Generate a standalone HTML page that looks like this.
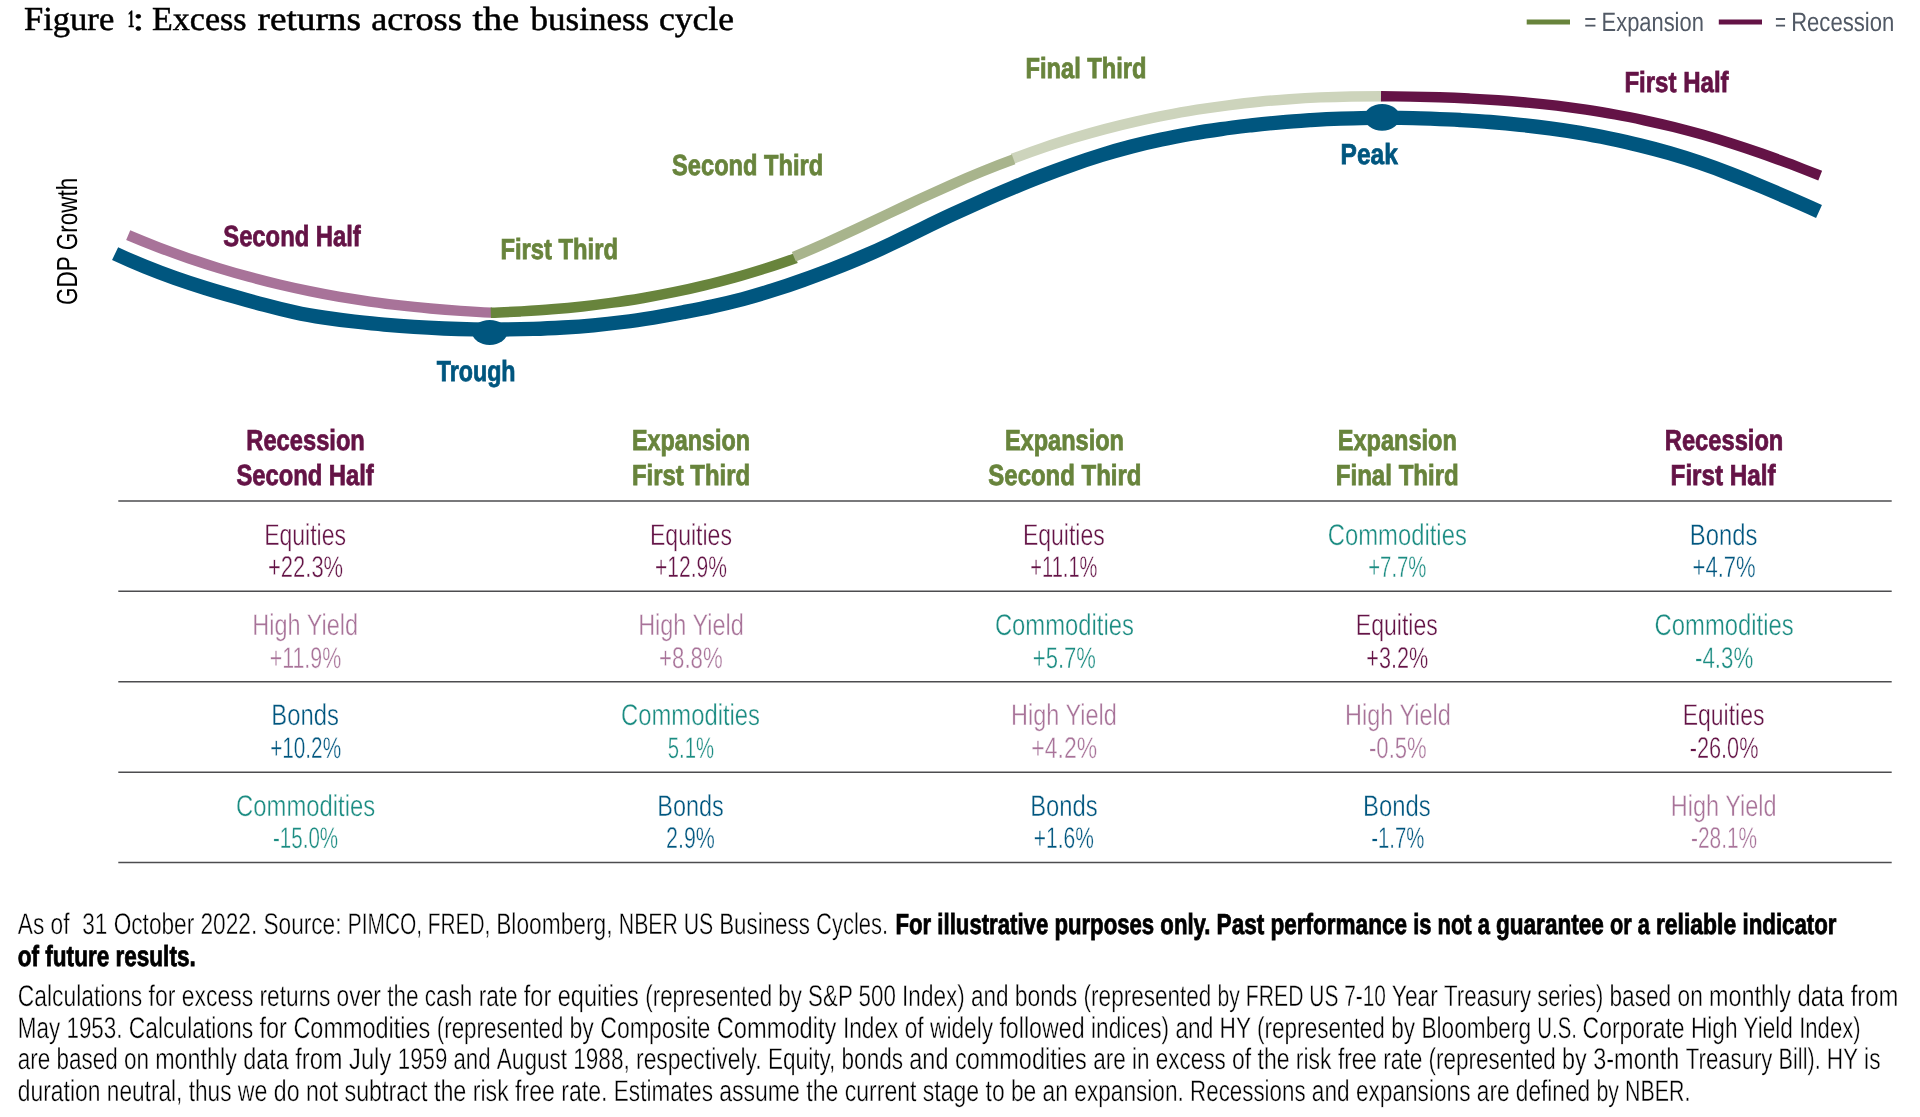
<!DOCTYPE html>
<html lang="en">
<head>
<meta charset="utf-8">
<title>Figure 1: Excess returns across the business cycle</title>
<style>
html,body{margin:0;padding:0;background:#fff;}
body{width:1920px;height:1117px;overflow:hidden;}
svg{display:block;font-family:"Liberation Sans",Arial,sans-serif;will-change:transform;text-rendering:geometricPrecision;}
</style>
</head>
<body>
<svg width="1920" height="1117" viewBox="0 0 1920 1117">
<rect width="1920" height="1117" fill="#ffffff"/>
<g id="legend-lines" stroke-width="5" fill="none">
<line x1="1526.7" y1="21.9" x2="1570" y2="21.9" stroke="#68843c"/>
<line x1="1718.8" y1="21.9" x2="1762" y2="21.9" stroke="#641346"/>
</g>
<g id="cycle" fill="none" stroke-linecap="butt">
<path stroke="#00567f" stroke-width="14.3" d="M115.1 253.6 C125.1 258.3 135.0 262.6 145.0 266.6 C155.0 270.7 164.9 274.4 174.9 277.9 C184.9 281.4 194.8 284.7 204.8 287.8 C214.7 290.9 224.7 293.8 234.7 296.6 C244.6 299.5 254.6 302.3 264.6 304.9 C274.5 307.6 284.5 310.1 294.5 312.2 C304.4 314.4 314.4 316.1 324.4 317.6 C334.3 319.1 344.3 320.4 354.2 321.5 C364.2 322.6 374.2 323.7 384.1 324.6 C394.1 325.5 404.1 326.3 414.0 326.9 C424.0 327.6 434.0 328.1 443.9 328.5 C453.9 328.9 463.9 329.2 473.8 329.4 C483.8 329.6 493.7 329.6 503.7 329.5 C513.7 329.4 523.6 329.2 533.6 328.9 C543.6 328.6 553.5 328.1 563.5 327.5 C573.5 326.9 583.4 326.2 593.4 325.3 C603.4 324.4 613.3 323.3 623.3 322.0 C633.2 320.8 643.2 319.3 653.2 317.7 C663.1 316.0 673.1 314.1 683.1 312.2 C693.0 310.3 703.0 308.4 713.0 306.2 C722.9 304.1 732.9 301.7 742.9 299.1 C752.8 296.4 762.8 293.5 772.7 290.3 C782.7 287.2 792.7 283.8 802.6 280.2 C812.6 276.7 822.6 272.9 832.5 269.1 C842.5 265.2 852.5 261.2 862.4 256.9 C872.4 252.7 882.4 248.2 892.3 243.4 C902.3 238.6 912.2 233.7 922.2 228.8 C932.2 223.9 942.1 219.1 952.1 214.5 C962.1 209.9 972.0 205.4 982.0 200.9 C992.0 196.5 1001.9 192.2 1011.9 188.1 C1021.9 183.9 1031.8 179.8 1041.8 176.0 C1051.7 172.1 1061.7 168.4 1071.7 164.9 C1081.6 161.4 1091.6 158.1 1101.6 155.0 C1111.5 151.9 1121.5 149.1 1131.5 146.5 C1141.4 143.9 1151.4 141.6 1161.4 139.5 C1171.3 137.4 1181.3 135.5 1191.2 133.7 C1201.2 132.0 1211.2 130.5 1221.1 129.1 C1231.1 127.7 1241.1 126.5 1251.0 125.3 C1261.0 124.2 1271.0 123.2 1280.9 122.4 C1290.9 121.5 1300.9 120.8 1310.8 120.1 C1320.8 119.5 1330.7 119.0 1340.7 118.7 C1350.7 118.3 1360.6 118.1 1370.6 117.9 C1380.6 117.8 1390.5 117.8 1400.5 117.9 C1410.5 118.0 1420.4 118.3 1430.4 118.6 C1440.4 119.0 1450.3 119.4 1460.3 120.0 C1470.2 120.6 1480.2 121.2 1490.2 122.0 C1500.1 122.8 1510.1 123.7 1520.1 124.8 C1530.0 125.8 1540.0 127.0 1550.0 128.4 C1559.9 129.7 1569.9 131.2 1579.9 132.9 C1589.8 134.5 1599.8 136.4 1609.7 138.4 C1619.7 140.5 1629.7 142.7 1639.6 145.2 C1649.6 147.6 1659.6 150.3 1669.5 153.2 C1679.5 156.1 1689.5 159.2 1699.4 162.6 C1709.4 166.0 1719.4 169.6 1729.3 173.5 C1739.3 177.3 1749.2 181.3 1759.2 185.5 C1769.2 189.6 1779.1 193.9 1789.1 198.3 C1799.1 202.6 1809.0 207.0 1819.0 211.5"/>
<path stroke="#a87399" stroke-width="10.4" d="M128.2 235.1 C138.3 239.4 148.3 243.4 158.4 247.3 C168.5 251.1 178.6 254.8 188.6 258.3 C198.7 261.7 208.8 265.0 218.8 268.1 C228.9 271.2 239.0 274.1 249.1 276.8 C259.1 279.5 269.2 282.1 279.3 284.5 C289.4 286.9 299.4 289.1 309.5 291.1 C319.6 293.2 329.6 295.1 339.7 296.8 C349.8 298.5 359.9 300.1 369.9 301.6 C380.0 303.0 390.1 304.3 400.2 305.4 C410.2 306.6 420.3 307.6 430.4 308.5 C440.4 309.4 450.5 310.2 460.6 310.9 C470.7 311.6 480.7 312.2 490.8 312.6 l0.9 0.06"/>
<path stroke="#68843c" stroke-width="10.4" d="M490.8 312.7 C501.0 312.4 511.1 311.9 521.3 311.4 C531.5 310.8 541.7 310.2 551.8 309.3 C562.0 308.5 572.2 307.6 582.4 306.5 C592.5 305.4 602.7 304.1 612.9 302.7 C623.1 301.3 633.2 299.7 643.4 298.0 C653.6 296.2 663.7 294.3 673.9 292.2 C684.1 290.2 694.3 287.9 704.4 285.4 C714.6 283.0 724.8 280.3 735.0 277.5 C745.1 274.7 755.3 271.6 765.5 268.4 C775.7 265.2 785.8 261.7 796.0 258.1"/>
<path stroke="#cdd4bc" stroke-width="10.4" d="M1012.7 158.7 C1023.0 154.8 1033.2 151.1 1043.5 147.6 C1053.7 144.1 1064.0 140.9 1074.2 137.8 C1084.5 134.7 1094.7 131.8 1105.0 129.1 C1115.2 126.4 1125.5 123.9 1135.7 121.6 C1146.0 119.3 1156.2 117.1 1166.5 115.2 C1176.7 113.2 1187.0 111.4 1197.2 109.7 C1207.5 108.1 1217.8 106.6 1228.0 105.3 C1238.3 104.0 1248.5 102.8 1258.8 101.8 C1269.0 100.8 1279.3 99.9 1289.5 99.2 C1299.8 98.5 1310.0 97.9 1320.3 97.4 C1330.5 97.0 1340.8 96.7 1351.0 96.5 C1361.3 96.3 1371.5 96.2 1381.8 96.2"/>
<path stroke="#a8b48c" stroke-width="10.4" d="M793.9 256.8 C804.4 252.4 814.8 247.9 825.3 243.2 C835.7 238.4 846.2 233.6 856.7 228.7 C867.1 223.8 877.6 218.9 888.1 213.9 C898.5 209.0 909.0 204.0 919.4 199.1 C929.9 194.3 940.4 189.5 950.8 184.9 C961.3 180.2 971.8 175.7 982.2 171.5 C992.7 167.2 1003.1 163.2 1013.6 159.4"/>
<path stroke="#641346" stroke-width="10.4" d="M1381.0 96.2 C1390.8 96.3 1400.5 96.4 1410.3 96.6 C1420.0 96.8 1429.8 97.0 1439.6 97.3 C1449.3 97.6 1459.1 98.0 1468.8 98.5 C1478.6 99.0 1488.4 99.6 1498.1 100.2 C1507.9 100.9 1517.6 101.7 1527.4 102.6 C1537.2 103.5 1546.9 104.5 1556.7 105.7 C1566.4 106.9 1576.2 108.2 1586.0 109.6 C1595.7 111.1 1605.5 112.7 1615.2 114.5 C1625.0 116.2 1634.8 118.2 1644.5 120.3 C1654.3 122.4 1664.0 124.6 1673.8 127.0 C1683.6 129.5 1693.3 132.1 1703.1 134.8 C1712.8 137.6 1722.6 140.6 1732.4 143.7 C1742.1 146.8 1751.9 150.1 1761.6 153.5 C1771.4 157.0 1781.2 160.5 1790.9 164.2 C1800.7 168.0 1810.4 171.8 1820.2 175.7"/>
<ellipse cx="489.7" cy="332.4" rx="17.5" ry="12.5" fill="#00567f"/>
<ellipse cx="1382.1" cy="117.35" rx="17.6" ry="13.4" fill="#00567f"/>
</g>
<text id="gdp" transform="translate(77.3 305.00) rotate(-90)" font-size="29" fill="#000" textLength="127.26" lengthAdjust="spacingAndGlyphs">GDP Growth</text>
<g id="rules" stroke="#4d4d4f" stroke-width="1.5">
<line x1="118.3" y1="500.9" x2="1891.7" y2="500.9"/>
<line x1="118.3" y1="591.3" x2="1891.7" y2="591.3"/>
<line x1="118.3" y1="681.7" x2="1891.7" y2="681.7"/>
<line x1="118.3" y1="772.2" x2="1891.7" y2="772.2"/>
<line x1="118.3" y1="862.6" x2="1891.7" y2="862.6"/>
</g>
<g id="labels">
<text id="title" font-size="33.5" font-family='"Liberation Serif", "Times New Roman", serif' fill="#000" stroke="#000" stroke-width="0.5"><tspan id="tw0" x="23.95" y="29.8" textLength="90.31" lengthAdjust="spacingAndGlyphs">Figure</tspan> <tspan id="tw1" x="127.83" y="27.0" textLength="6.62" lengthAdjust="spacingAndGlyphs" font-size="24.5" font-weight="bold">1</tspan><tspan id="tw1c" x="132.51" y="29.8" textLength="11.79" lengthAdjust="spacingAndGlyphs">:</tspan> <tspan id="tw2" x="152.00" y="29.8" textLength="94.50" lengthAdjust="spacingAndGlyphs">Excess</tspan> <tspan id="tw3" x="257.50" y="29.8" textLength="103.53" lengthAdjust="spacingAndGlyphs">returns</tspan> <tspan id="tw4" x="371.20" y="29.8" textLength="90.54" lengthAdjust="spacingAndGlyphs">across</tspan> <tspan id="tw5" x="472.45" y="29.8" textLength="46.81" lengthAdjust="spacingAndGlyphs">the</tspan> <tspan id="tw6" x="530.49" y="29.8" textLength="118.77" lengthAdjust="spacingAndGlyphs">business</tspan> <tspan id="tw7" x="659.00" y="29.8" textLength="75.00" lengthAdjust="spacingAndGlyphs">cycle</tspan></text>
<text id="leg1" y="30.8" font-size="26.5" fill="#515965"><tspan id="lg1a" x="1584.32" textLength="12.20" lengthAdjust="spacingAndGlyphs">=</tspan> <tspan id="lg1b" x="1601.59" textLength="102.25" lengthAdjust="spacingAndGlyphs">Expansion</tspan></text>
<text id="leg2" y="30.8" font-size="26.5" fill="#515965"><tspan id="lg2a" x="1775.03" textLength="10.98" lengthAdjust="spacingAndGlyphs">=</tspan> <tspan id="lg2b" x="1791.17" textLength="103.06" lengthAdjust="spacingAndGlyphs">Recession</tspan></text>
<text id="c_sh" x="223.27" y="246.25" font-size="29" font-weight="bold" fill="#641346" stroke="#641346" stroke-width="0.8" textLength="137.50" lengthAdjust="spacingAndGlyphs">Second Half</text>
<text id="c_ft" x="500.39" y="259.40" font-size="29" font-weight="bold" fill="#68843c" stroke="#68843c" stroke-width="0.8" textLength="117.61" lengthAdjust="spacingAndGlyphs">First Third</text>
<text id="c_st" x="672.09" y="175.40" font-size="29" font-weight="bold" fill="#68843c" stroke="#68843c" stroke-width="0.8" textLength="151.02" lengthAdjust="spacingAndGlyphs">Second Third</text>
<text id="c_fn" x="1025.50" y="77.90" font-size="29" font-weight="bold" fill="#68843c" stroke="#68843c" stroke-width="0.8" textLength="121.01" lengthAdjust="spacingAndGlyphs">Final Third</text>
<text id="c_pk" x="1340.61" y="164.00" font-size="29" font-weight="bold" fill="#00567f" stroke="#00567f" stroke-width="0.8" textLength="57.13" lengthAdjust="spacingAndGlyphs">Peak</text>
<text id="c_fh" x="1624.38" y="91.90" font-size="29" font-weight="bold" fill="#641346" stroke="#641346" stroke-width="0.8" textLength="104.20" lengthAdjust="spacingAndGlyphs">First Half</text>
<text id="c_tr" x="436.75" y="381.25" font-size="29" font-weight="bold" fill="#00567f" stroke="#00567f" stroke-width="0.8" textLength="78.79" lengthAdjust="spacingAndGlyphs">Trough</text>
<text id="h0a" x="246.35" y="450.10" font-size="29" font-weight="bold" fill="#641346" stroke="#641346" stroke-width="0.8" textLength="118.49" lengthAdjust="spacingAndGlyphs">Recession</text>
<text id="h0b" x="236.39" y="484.70" font-size="29" font-weight="bold" fill="#641346" stroke="#641346" stroke-width="0.8" textLength="137.41" lengthAdjust="spacingAndGlyphs">Second Half</text>
<text id="h1a" x="631.98" y="450.10" font-size="29" font-weight="bold" fill="#68843c" stroke="#68843c" stroke-width="0.8" textLength="118.03" lengthAdjust="spacingAndGlyphs">Expansion</text>
<text id="h1b" x="631.98" y="484.70" font-size="29" font-weight="bold" fill="#68843c" stroke="#68843c" stroke-width="0.8" textLength="118.03" lengthAdjust="spacingAndGlyphs">First Third</text>
<text id="h2a" x="1004.88" y="450.10" font-size="29" font-weight="bold" fill="#68843c" stroke="#68843c" stroke-width="0.8" textLength="119.09" lengthAdjust="spacingAndGlyphs">Expansion</text>
<text id="h2b" x="988.37" y="484.70" font-size="29" font-weight="bold" fill="#68843c" stroke="#68843c" stroke-width="0.8" textLength="153.03" lengthAdjust="spacingAndGlyphs">Second Third</text>
<text id="h3a" x="1337.76" y="450.10" font-size="29" font-weight="bold" fill="#68843c" stroke="#68843c" stroke-width="0.8" textLength="119.11" lengthAdjust="spacingAndGlyphs">Expansion</text>
<text id="h3b" x="1335.77" y="484.70" font-size="29" font-weight="bold" fill="#68843c" stroke="#68843c" stroke-width="0.8" textLength="123.06" lengthAdjust="spacingAndGlyphs">Final Third</text>
<text id="h4a" x="1664.85" y="450.10" font-size="29" font-weight="bold" fill="#641346" stroke="#641346" stroke-width="0.8" textLength="118.48" lengthAdjust="spacingAndGlyphs">Recession</text>
<text id="h4b" x="1670.59" y="484.70" font-size="29" font-weight="bold" fill="#641346" stroke="#641346" stroke-width="0.8" textLength="105.02" lengthAdjust="spacingAndGlyphs">First Half</text>
<text id="n00" x="264.13" y="544.80" font-size="29.9" fill="#641346" stroke="#fff" stroke-width="0.4" textLength="81.90" lengthAdjust="spacingAndGlyphs">Equities</text>
<text id="v00" x="268.00" y="577.30" font-size="29.9" fill="#641346" stroke="#fff" stroke-width="0.4" textLength="75.17" lengthAdjust="spacingAndGlyphs">+22.3%</text>
<text id="n01" x="252.28" y="635.10" font-size="29.9" fill="#a87399" stroke="#fff" stroke-width="0.4" textLength="105.74" lengthAdjust="spacingAndGlyphs">High Yield</text>
<text id="v01" x="269.65" y="667.60" font-size="29.9" fill="#a87399" stroke="#fff" stroke-width="0.4" textLength="71.60" lengthAdjust="spacingAndGlyphs">+11.9%</text>
<text id="n02" x="271.35" y="725.40" font-size="29.9" fill="#00567f" stroke="#fff" stroke-width="0.4" textLength="67.53" lengthAdjust="spacingAndGlyphs">Bonds</text>
<text id="v02" x="270.15" y="757.90" font-size="29.9" fill="#00567f" stroke="#fff" stroke-width="0.4" textLength="70.95" lengthAdjust="spacingAndGlyphs">+10.2%</text>
<text id="n03" x="236.09" y="815.70" font-size="29.9" fill="#1b8c82" stroke="#fff" stroke-width="0.4" textLength="139.04" lengthAdjust="spacingAndGlyphs">Commodities</text>
<text id="v03" x="272.96" y="848.20" font-size="29.9" fill="#1b8c82" stroke="#fff" stroke-width="0.4" textLength="65.22" lengthAdjust="spacingAndGlyphs">-15.0%</text>
<text id="n10" x="649.99" y="544.80" font-size="29.9" fill="#641346" stroke="#fff" stroke-width="0.4" textLength="81.96" lengthAdjust="spacingAndGlyphs">Equities</text>
<text id="v10" x="655.00" y="577.30" font-size="29.9" fill="#641346" stroke="#fff" stroke-width="0.4" textLength="72.00" lengthAdjust="spacingAndGlyphs">+12.9%</text>
<text id="n11" x="638.13" y="635.10" font-size="29.9" fill="#a87399" stroke="#fff" stroke-width="0.4" textLength="105.74" lengthAdjust="spacingAndGlyphs">High Yield</text>
<text id="v11" x="659.06" y="667.60" font-size="29.9" fill="#a87399" stroke="#fff" stroke-width="0.4" textLength="63.61" lengthAdjust="spacingAndGlyphs">+8.8%</text>
<text id="n12" x="620.99" y="725.40" font-size="29.9" fill="#1b8c82" stroke="#fff" stroke-width="0.4" textLength="139.02" lengthAdjust="spacingAndGlyphs">Commodities</text>
<text id="v12" x="667.81" y="757.90" font-size="29.9" fill="#1b8c82" stroke="#fff" stroke-width="0.4" textLength="46.30" lengthAdjust="spacingAndGlyphs">5.1%</text>
<text id="n13" x="657.32" y="815.70" font-size="29.9" fill="#00567f" stroke="#fff" stroke-width="0.4" textLength="66.45" lengthAdjust="spacingAndGlyphs">Bonds</text>
<text id="v13" x="666.07" y="848.20" font-size="29.9" fill="#00567f" stroke="#fff" stroke-width="0.4" textLength="48.85" lengthAdjust="spacingAndGlyphs">2.9%</text>
<text id="n20" x="1022.92" y="544.80" font-size="29.9" fill="#641346" stroke="#fff" stroke-width="0.4" textLength="81.88" lengthAdjust="spacingAndGlyphs">Equities</text>
<text id="v20" x="1030.37" y="577.30" font-size="29.9" fill="#641346" stroke="#fff" stroke-width="0.4" textLength="67.05" lengthAdjust="spacingAndGlyphs">+11.1%</text>
<text id="n21" x="994.89" y="635.10" font-size="29.9" fill="#1b8c82" stroke="#fff" stroke-width="0.4" textLength="139.05" lengthAdjust="spacingAndGlyphs">Commodities</text>
<text id="v21" x="1032.83" y="667.60" font-size="29.9" fill="#1b8c82" stroke="#fff" stroke-width="0.4" textLength="63.13" lengthAdjust="spacingAndGlyphs">+5.7%</text>
<text id="n22" x="1011.03" y="725.40" font-size="29.9" fill="#a87399" stroke="#fff" stroke-width="0.4" textLength="105.75" lengthAdjust="spacingAndGlyphs">High Yield</text>
<text id="v22" x="1031.37" y="757.90" font-size="29.9" fill="#a87399" stroke="#fff" stroke-width="0.4" textLength="65.67" lengthAdjust="spacingAndGlyphs">+4.2%</text>
<text id="n23" x="1030.15" y="815.70" font-size="29.9" fill="#00567f" stroke="#fff" stroke-width="0.4" textLength="67.58" lengthAdjust="spacingAndGlyphs">Bonds</text>
<text id="v23" x="1033.85" y="848.20" font-size="29.9" fill="#00567f" stroke="#fff" stroke-width="0.4" textLength="59.99" lengthAdjust="spacingAndGlyphs">+1.6%</text>
<text id="n30" x="1327.79" y="544.80" font-size="29.9" fill="#1b8c82" stroke="#fff" stroke-width="0.4" textLength="139.06" lengthAdjust="spacingAndGlyphs">Commodities</text>
<text id="v30" x="1368.25" y="577.30" font-size="29.9" fill="#1b8c82" stroke="#fff" stroke-width="0.4" textLength="58.20" lengthAdjust="spacingAndGlyphs">+7.7%</text>
<text id="n31" x="1355.83" y="635.10" font-size="29.9" fill="#641346" stroke="#fff" stroke-width="0.4" textLength="81.92" lengthAdjust="spacingAndGlyphs">Equities</text>
<text id="v31" x="1366.37" y="667.60" font-size="29.9" fill="#641346" stroke="#fff" stroke-width="0.4" textLength="61.89" lengthAdjust="spacingAndGlyphs">+3.2%</text>
<text id="n32" x="1345.02" y="725.40" font-size="29.9" fill="#a87399" stroke="#fff" stroke-width="0.4" textLength="105.75" lengthAdjust="spacingAndGlyphs">High Yield</text>
<text id="v32" x="1369.00" y="757.90" font-size="29.9" fill="#a87399" stroke="#fff" stroke-width="0.4" textLength="57.70" lengthAdjust="spacingAndGlyphs">-0.5%</text>
<text id="n33" x="1363.01" y="815.70" font-size="29.9" fill="#00567f" stroke="#fff" stroke-width="0.4" textLength="67.60" lengthAdjust="spacingAndGlyphs">Bonds</text>
<text id="v33" x="1371.29" y="848.20" font-size="29.9" fill="#00567f" stroke="#fff" stroke-width="0.4" textLength="53.06" lengthAdjust="spacingAndGlyphs">-1.7%</text>
<text id="n40" x="1689.86" y="544.80" font-size="29.9" fill="#00567f" stroke="#fff" stroke-width="0.4" textLength="67.55" lengthAdjust="spacingAndGlyphs">Bonds</text>
<text id="v40" x="1692.52" y="577.30" font-size="29.9" fill="#00567f" stroke="#fff" stroke-width="0.4" textLength="63.20" lengthAdjust="spacingAndGlyphs">+4.7%</text>
<text id="n41" x="1654.59" y="635.10" font-size="29.9" fill="#1b8c82" stroke="#fff" stroke-width="0.4" textLength="139.06" lengthAdjust="spacingAndGlyphs">Commodities</text>
<text id="v41" x="1695.03" y="667.60" font-size="29.9" fill="#1b8c82" stroke="#fff" stroke-width="0.4" textLength="58.18" lengthAdjust="spacingAndGlyphs">-4.3%</text>
<text id="n42" x="1682.66" y="725.40" font-size="29.9" fill="#641346" stroke="#fff" stroke-width="0.4" textLength="81.88" lengthAdjust="spacingAndGlyphs">Equities</text>
<text id="v42" x="1689.77" y="757.90" font-size="29.9" fill="#641346" stroke="#fff" stroke-width="0.4" textLength="68.70" lengthAdjust="spacingAndGlyphs">-26.0%</text>
<text id="n43" x="1670.75" y="815.70" font-size="29.9" fill="#a87399" stroke="#fff" stroke-width="0.4" textLength="105.75" lengthAdjust="spacingAndGlyphs">High Yield</text>
<text id="v43" x="1691.02" y="848.20" font-size="29.9" fill="#a87399" stroke="#fff" stroke-width="0.4" textLength="66.17" lengthAdjust="spacingAndGlyphs">-28.1%</text>
</g>
<g id="footnotes">
<text id="f1a" y="934.0" font-size="29.9" stroke="#fff" stroke-width="0.4" fill="#000000" xml:space="preserve"><tspan x="17.8" textLength="64.4" lengthAdjust="spacingAndGlyphs">As of  </tspan><tspan x="82.2" textLength="118.3" lengthAdjust="spacingAndGlyphs">31 October </tspan><tspan x="200.5" textLength="147.3" lengthAdjust="spacingAndGlyphs">2022. Source: </tspan><tspan x="347.8" textLength="148.4" lengthAdjust="spacingAndGlyphs">PIMCO, FRED, </tspan><tspan x="496.2" textLength="122.6" lengthAdjust="spacingAndGlyphs">Bloomberg, </tspan><tspan x="618.8" textLength="100.4" lengthAdjust="spacingAndGlyphs">NBER US </tspan><tspan x="719.2" textLength="96.9" lengthAdjust="spacingAndGlyphs">Business </tspan><tspan x="816.1" textLength="72.0" lengthAdjust="spacingAndGlyphs">Cycles.</tspan></text>
<text id="f1b" y="934.0" font-size="29" font-weight="bold" stroke="#000000" stroke-width="0.8" fill="#000000" xml:space="preserve"><tspan x="895.5" textLength="158.9" lengthAdjust="spacingAndGlyphs">For illustrative </tspan><tspan x="1054.4" textLength="162.2" lengthAdjust="spacingAndGlyphs">purposes only. </tspan><tspan x="1216.6" textLength="53.9" lengthAdjust="spacingAndGlyphs">Past </tspan><tspan x="1270.5" textLength="142.7" lengthAdjust="spacingAndGlyphs">performance </tspan><tspan x="1413.2" textLength="82.8" lengthAdjust="spacingAndGlyphs">is not a </tspan><tspan x="1496.0" textLength="114.1" lengthAdjust="spacingAndGlyphs">guarantee </tspan><tspan x="1610.1" textLength="45.8" lengthAdjust="spacingAndGlyphs">or a </tspan><tspan x="1655.9" textLength="86.6" lengthAdjust="spacingAndGlyphs">reliable </tspan><tspan x="1742.5" textLength="94.0" lengthAdjust="spacingAndGlyphs">indicator</tspan></text>
<text id="f2" y="965.9" font-size="29" font-weight="bold" stroke="#000000" stroke-width="0.8" fill="#000000" xml:space="preserve"><tspan x="17.8" textLength="177.9" lengthAdjust="spacingAndGlyphs">of future results.</tspan></text>
<text id="f3" y="1006.0" font-size="29.9" stroke="#fff" stroke-width="0.4" fill="#000000" xml:space="preserve"><tspan x="17.8" textLength="130.7" lengthAdjust="spacingAndGlyphs">Calculations </tspan><tspan x="148.5" textLength="111.0" lengthAdjust="spacingAndGlyphs">for excess </tspan><tspan x="259.5" textLength="127.7" lengthAdjust="spacingAndGlyphs">returns over </tspan><tspan x="387.2" textLength="136.6" lengthAdjust="spacingAndGlyphs">the cash rate </tspan><tspan x="523.8" textLength="121.5" lengthAdjust="spacingAndGlyphs">for equities </tspan><tspan x="645.3" textLength="133.0" lengthAdjust="spacingAndGlyphs">(represented </tspan><tspan x="778.3" textLength="123.8" lengthAdjust="spacingAndGlyphs">by S&amp;P 500 </tspan><tspan x="902.1" textLength="112.7" lengthAdjust="spacingAndGlyphs">Index) and </tspan><tspan x="1014.8" textLength="68.8" lengthAdjust="spacingAndGlyphs">bonds </tspan><tspan x="1083.6" textLength="134.0" lengthAdjust="spacingAndGlyphs">(represented </tspan><tspan x="1217.6" textLength="91.7" lengthAdjust="spacingAndGlyphs">by FRED </tspan><tspan x="1309.3" textLength="82.5" lengthAdjust="spacingAndGlyphs">US 7-10 </tspan><tspan x="1391.8" textLength="52.3" lengthAdjust="spacingAndGlyphs">Year </tspan><tspan x="1444.1" textLength="93.2" lengthAdjust="spacingAndGlyphs">Treasury </tspan><tspan x="1537.3" textLength="72.1" lengthAdjust="spacingAndGlyphs">series) </tspan><tspan x="1609.4" textLength="99.7" lengthAdjust="spacingAndGlyphs">based on </tspan><tspan x="1709.1" textLength="88.4" lengthAdjust="spacingAndGlyphs">monthly </tspan><tspan x="1797.5" textLength="100.9" lengthAdjust="spacingAndGlyphs">data from</tspan></text>
<text id="f4" y="1037.8" font-size="29.9" stroke="#fff" stroke-width="0.4" fill="#000000" xml:space="preserve"><tspan x="17.8" textLength="111.0" lengthAdjust="spacingAndGlyphs">May 1953. </tspan><tspan x="128.8" textLength="130.7" lengthAdjust="spacingAndGlyphs">Calculations </tspan><tspan x="259.5" textLength="177.3" lengthAdjust="spacingAndGlyphs">for Commodities </tspan><tspan x="436.8" textLength="132.7" lengthAdjust="spacingAndGlyphs">(represented </tspan><tspan x="569.5" textLength="147.3" lengthAdjust="spacingAndGlyphs">by Composite </tspan><tspan x="716.8" textLength="126.1" lengthAdjust="spacingAndGlyphs">Commodity </tspan><tspan x="842.9" textLength="156.5" lengthAdjust="spacingAndGlyphs">Index of widely </tspan><tspan x="999.4" textLength="91.7" lengthAdjust="spacingAndGlyphs">followed </tspan><tspan x="1091.1" textLength="84.3" lengthAdjust="spacingAndGlyphs">indices) </tspan><tspan x="1175.4" textLength="81.6" lengthAdjust="spacingAndGlyphs">and HY </tspan><tspan x="1257.0" textLength="134.2" lengthAdjust="spacingAndGlyphs">(represented </tspan><tspan x="1391.2" textLength="146.1" lengthAdjust="spacingAndGlyphs">by Bloomberg </tspan><tspan x="1537.3" textLength="45.3" lengthAdjust="spacingAndGlyphs">U.S. </tspan><tspan x="1582.6" textLength="108.3" lengthAdjust="spacingAndGlyphs">Corporate </tspan><tspan x="1690.9" textLength="108.3" lengthAdjust="spacingAndGlyphs">High Yield </tspan><tspan x="1799.2" textLength="61.4" lengthAdjust="spacingAndGlyphs">Index)</tspan></text>
<text id="f5" y="1069.3" font-size="29.9" stroke="#fff" stroke-width="0.4" fill="#000000" xml:space="preserve"><tspan x="17.8" textLength="137.4" lengthAdjust="spacingAndGlyphs">are based on </tspan><tspan x="155.2" textLength="140.0" lengthAdjust="spacingAndGlyphs">monthly data </tspan><tspan x="295.2" textLength="102.6" lengthAdjust="spacingAndGlyphs">from July </tspan><tspan x="397.8" textLength="99.0" lengthAdjust="spacingAndGlyphs">1959 and </tspan><tspan x="496.8" textLength="139.2" lengthAdjust="spacingAndGlyphs">August 1988, </tspan><tspan x="636.0" textLength="132.0" lengthAdjust="spacingAndGlyphs">respectively. </tspan><tspan x="768.0" textLength="141.3" lengthAdjust="spacingAndGlyphs">Equity, bonds </tspan><tspan x="909.3" textLength="183.9" lengthAdjust="spacingAndGlyphs">and commodities </tspan><tspan x="1093.2" textLength="138.9" lengthAdjust="spacingAndGlyphs">are in excess </tspan><tspan x="1232.1" textLength="105.8" lengthAdjust="spacingAndGlyphs">of the risk </tspan><tspan x="1337.9" textLength="90.7" lengthAdjust="spacingAndGlyphs">free rate </tspan><tspan x="1428.6" textLength="133.4" lengthAdjust="spacingAndGlyphs">(represented </tspan><tspan x="1562.0" textLength="123.8" lengthAdjust="spacingAndGlyphs">by 3-month </tspan><tspan x="1685.8" textLength="92.8" lengthAdjust="spacingAndGlyphs">Treasury </tspan><tspan x="1778.6" textLength="48.1" lengthAdjust="spacingAndGlyphs">Bill). </tspan><tspan x="1826.7" textLength="53.8" lengthAdjust="spacingAndGlyphs">HY is</tspan></text>
<text id="f6" y="1100.8" font-size="29.9" stroke="#fff" stroke-width="0.4" fill="#000000" xml:space="preserve"><tspan x="17.8" textLength="89.0" lengthAdjust="spacingAndGlyphs">duration </tspan><tspan x="106.8" textLength="131.0" lengthAdjust="spacingAndGlyphs">neutral, thus </tspan><tspan x="237.8" textLength="106.7" lengthAdjust="spacingAndGlyphs">we do not </tspan><tspan x="344.5" textLength="128.3" lengthAdjust="spacingAndGlyphs">subtract the </tspan><tspan x="472.8" textLength="141.0" lengthAdjust="spacingAndGlyphs">risk free rate. </tspan><tspan x="613.8" textLength="105.4" lengthAdjust="spacingAndGlyphs">Estimates </tspan><tspan x="719.2" textLength="125.5" lengthAdjust="spacingAndGlyphs">assume the </tspan><tspan x="844.7" textLength="140.9" lengthAdjust="spacingAndGlyphs">current stage </tspan><tspan x="985.6" textLength="88.7" lengthAdjust="spacingAndGlyphs">to be an </tspan><tspan x="1074.3" textLength="115.8" lengthAdjust="spacingAndGlyphs">expansion. </tspan><tspan x="1190.1" textLength="121.7" lengthAdjust="spacingAndGlyphs">Recessions </tspan><tspan x="1311.8" textLength="165.0" lengthAdjust="spacingAndGlyphs">and expansions </tspan><tspan x="1476.8" textLength="119.6" lengthAdjust="spacingAndGlyphs">are defined </tspan><tspan x="1596.4" textLength="94.0" lengthAdjust="spacingAndGlyphs">by NBER.</tspan></text>
</g>
</svg>
</body>
</html>
